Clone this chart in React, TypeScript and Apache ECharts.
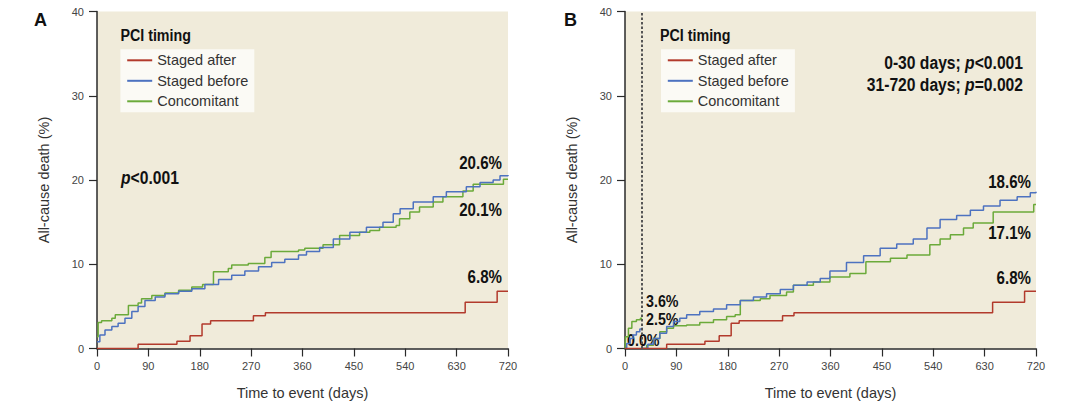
import React, { useEffect, useRef } from "react";
import * as echarts from "echarts";

// ---------- data ----------
const xTicks = [0, 90, 180, 270, 360, 450, 540, 630, 720];
const seriesNames = ["Staged after", "Staged before", "Concomitant"];
const seriesColors = ["#B23A2C", "#4D72C0", "#6BAA3A"];

// Panel A (full follow-up), [day, cumulative %]
const aStagedAfter: [number, number][] = [
  [0, 0], [72, 0.5], [140, 0.85], [163, 1.5], [184, 2.9], [199, 3.3], [274, 3.9], [295, 4.25], [645, 5.5], [701, 6.8], [720, 6.8],
];
const aStagedBefore: [number, number][] = [
  [0, 0.8], [5, 1.6], [14, 2.2], [26, 2.6], [37, 3.0], [49, 3.6], [61, 4.4], [72, 5.0], [84, 5.7], [102, 6.1], [119, 6.5],
  [143, 6.8], [166, 7.1], [189, 7.6], [213, 8.2], [236, 8.7], [259, 9.2], [283, 9.7], [306, 10.2], [329, 10.6], [353, 11.1],
  [367, 11.5], [390, 12.0], [414, 13.0], [443, 13.8], [472, 14.4], [501, 15.0], [519, 16.0], [531, 16.6], [554, 17.4],
  [589, 18.0], [612, 18.6], [647, 19.2], [671, 19.7], [694, 20.0], [706, 20.5], [720, 20.6],
];
const aConcomitant: [number, number][] = [
  [0, 1.4], [2, 3.1], [8, 3.3], [26, 3.6], [32, 4.0], [55, 5.1], [72, 5.4], [78, 5.9], [96, 6.3], [119, 6.6], [143, 6.9],
  [166, 7.3], [185, 7.6], [204, 9.1], [230, 9.5], [236, 9.9], [265, 10.1], [294, 10.8], [305, 11.5], [353, 11.7], [364, 11.9],
  [396, 12.3], [425, 13.4], [460, 13.8], [478, 14.0], [495, 14.4], [524, 14.6], [530, 15.4], [548, 16.2], [565, 16.8],
  [589, 17.4], [606, 18.0], [641, 18.7], [659, 19.5], [712, 20.1], [720, 20.1],
];

// Panel B (landmark at 30 days)
const bStagedAfterEarly: [number, number][] = [[0, 0], [30, 0]];
const bStagedAfterLate: [number, number][] = [
  [31, 0], [73, 0.5], [140, 0.85], [165, 1.5], [186, 3.0], [200, 3.3], [276, 3.9], [296, 4.25], [644, 5.5], [700, 6.8], [720, 6.8],
];
const bStagedBeforeEarly: [number, number][] = [[0, 0], [3, 0.6], [9, 1.2], [14, 1.6], [20, 2.0], [26, 2.3], [30, 2.5]];
const bStagedBeforeLate: [number, number][] = [
  [31, 0], [40, 0.5], [50, 1.2], [61, 1.8], [73, 2.6], [85, 3.2], [96, 3.6], [108, 4.0], [131, 4.4], [155, 4.7], [178, 5.2],
  [202, 5.7], [225, 6.1], [248, 6.5], [272, 7.0], [295, 7.5], [319, 7.9], [342, 8.3], [359, 9.2], [388, 10.2], [418, 11.0],
  [447, 11.9], [476, 12.4], [505, 13.0], [529, 14.3], [552, 15.3], [581, 15.8], [605, 16.4], [628, 16.9], [657, 17.6],
  [687, 18.0], [710, 18.5], [720, 18.6],
];
const bConcomitantEarly: [number, number][] = [[0, 0], [1, 1.4], [6, 2.4], [12, 3.2], [20, 3.4], [27, 3.6], [30, 3.6]];
const bConcomitantLate: [number, number][] = [
  [31, 0], [38, 0.4], [50, 1.2], [61, 2.0], [73, 2.4], [85, 2.7], [108, 2.8], [131, 3.1], [155, 3.4], [178, 3.8], [193, 4.0],
  [202, 5.7], [237, 5.9], [254, 6.3], [283, 6.7], [295, 7.5], [330, 7.9], [359, 8.5], [394, 8.9], [422, 10.3], [465, 10.7],
  [494, 11.1], [534, 12.3], [552, 13.0], [570, 13.5], [593, 14.3], [610, 14.9], [645, 16.2], [716, 17.1], [720, 17.1],
];

const landmarkDay = 30;

// ---------- styling ----------
const BEIGE = "#F0EBDA";
const FONT = "'Liberation Sans', Arial, sans-serif";

function stepSeries(name: string, color: string, data: [number, number][], gi: number, extra: any = {}) {
  return {
    type: "line",
    name,
    xAxisIndex: gi,
    yAxisIndex: gi,
    data,
    step: "end",
    symbol: "none",
    showSymbol: false,
    lineStyle: { color, width: 1.5 },
    itemStyle: { color },
    ...extra,
  };
}

// condensed bold text (emulates a narrow face by horizontal scaling)
function boldText(text: string, x: number, y: number, align: string, size = 18, sx = 0.84) {
  return {
    type: "text",
    x,
    y,
    scaleX: sx,
    silent: true,
    style: {
      text,
      fill: "#111",
      fontFamily: FONT,
      fontWeight: "bold",
      fontSize: size,
      align,
      verticalAlign: "middle",
    },
  };
}

function pText(text: string, x: number, y: number, align: string) {
  return {
    type: "text",
    x,
    y,
    scaleX: 0.87,
    silent: true,
    style: {
      text,
      align,
      verticalAlign: "middle",
      rich: {
        b: { fontFamily: FONT, fontWeight: "bold", fontSize: 18, fill: "#111", color: "#111" },
        i: { fontFamily: FONT, fontWeight: "bold", fontStyle: "italic", fontSize: 18, fill: "#111", color: "#111" },
      },
    },
  };
}

export default function App() {
  const ref = useRef<HTMLDivElement>(null);

  useEffect(() => {
    if (!ref.current) return;
    const chart = echarts.init(ref.current, undefined, { renderer: "svg" });

    const grids = [
      { left: 97, top: 11.5, width: 411, height: 337 },
      { left: 625, top: 11.5, width: 411, height: 337 },
    ];

    const axisCommon = {
      axisLine: { show: true, onZero: false, lineStyle: { color: "#2a2a2a", width: 1.5 } },
      axisTick: { show: true, length: 8, lineStyle: { color: "#2a2a2a", width: 1.2 } },
      splitLine: { show: false },
      nameTextStyle: { fontFamily: FONT, fontSize: 14.5, color: "#333" },
    };

    const legendCommon = {
      orient: "vertical",
      icon: "rect",
      itemWidth: 25,
      itemHeight: 2,
      itemGap: 5.5,
      padding: [3.5, 6, 3.5, 6.8],
      backgroundColor: "#FBFAF5",
      selectedMode: false,
      textStyle: { fontFamily: FONT, fontSize: 14.5, color: "#333", lineHeight: 14 },
      data: seriesNames,
    };

    const option: any = {
      animation: false,
      backgroundColor: "#ffffff",
      grid: grids.map((g) => ({ ...g, show: true, backgroundColor: BEIGE, borderWidth: 0 })),
      xAxis: [0, 1].map((i) => ({
        type: "value",
        gridIndex: i,
        min: 0,
        max: 720,
        interval: 90,
        name: "Time to event (days)",
        nameLocation: "middle",
        nameGap: 37,
        axisLabel: {
          fontFamily: FONT,
          fontSize: 11,
          color: "#444",
          margin: 12,
          customValues: xTicks,
        },
        ...axisCommon,
      })),
      yAxis: [0, 1].map((i) => ({
        type: "value",
        gridIndex: i,
        min: 0,
        max: 40,
        interval: 10,
        name: "All-cause death (%)",
        nameLocation: "middle",
        nameGap: 46,
        axisLabel: { fontFamily: FONT, fontSize: 11, color: "#444", margin: 13 },
        ...axisCommon,
      })),
      legend: [
        { ...legendCommon, left: 120.4, top: 49.3 },
        { ...legendCommon, left: 661, top: 49.3 },
      ],
      series: [
        stepSeries(seriesNames[2], seriesColors[2], aConcomitant, 0),
        stepSeries(seriesNames[1], seriesColors[1], aStagedBefore, 0),
        stepSeries(seriesNames[0], seriesColors[0], aStagedAfter, 0),
        stepSeries(seriesNames[2], seriesColors[2], bConcomitantEarly, 1),
        stepSeries(seriesNames[2], seriesColors[2], bConcomitantLate, 1),
        stepSeries(seriesNames[1], seriesColors[1], bStagedBeforeEarly, 1),
        stepSeries(seriesNames[1], seriesColors[1], bStagedBeforeLate, 1),
        stepSeries(seriesNames[0], seriesColors[0], bStagedAfterEarly, 1),
        stepSeries(seriesNames[0], seriesColors[0], bStagedAfterLate, 1, {
          markLine: {
            silent: true,
            symbol: "none",
            label: { show: false },
            lineStyle: { color: "#555", type: [2.5, 2], width: 2 },
            data: [{ xAxis: landmarkDay }],
          },
        }),
      ],
      graphic: [
        boldText("A", 34, 19, "left", 19, 0.95),
        boldText("B", 564, 19, "left", 19, 0.95),
        boldText("PCI timing", 120.4, 35, "left", 17, 0.84),
        boldText("PCI timing", 660, 35, "left", 17, 0.84),
        pText("{i|p}{b|<0.001}", 121, 178, "left"),
        boldText("20.6%", 502, 163, "right"),
        boldText("20.1%", 502, 210, "right"),
        boldText("6.8%", 502, 277, "right"),
        pText("{b|0-30 days; }{i|p}{b|<0.001}", 1023, 62.7, "right"),
        pText("{b|31-720 days; }{i|p}{b|=0.002}", 1023, 85, "right"),
        boldText("18.6%", 1031, 181.7, "right"),
        boldText("17.1%", 1031, 233, "right"),
        boldText("6.8%", 1031, 278, "right"),
        boldText("3.6%", 646, 301, "left", 17),
        boldText("2.5%", 646, 319, "left", 17),
        boldText("0.0%", 627, 340, "left", 17),
      ],
    };

    chart.setOption(option);
    return () => chart.dispose();
  }, []);

  return (
    <div
      ref={ref}
      style={{ position: "fixed", left: 0, top: 0, width: 1080, height: 406, background: "#fff" }}
    />
  );
}
